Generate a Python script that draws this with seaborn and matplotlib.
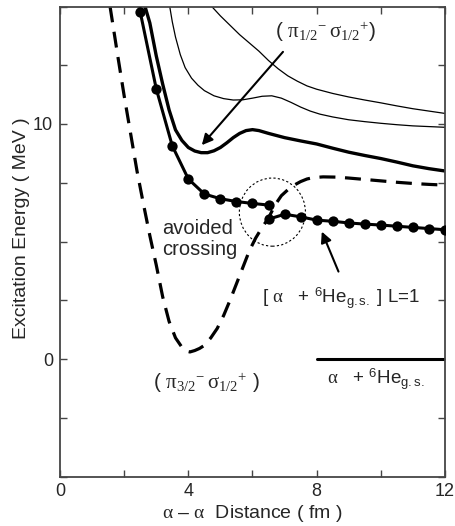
import numpy as np
import pandas as pd
import seaborn as sns
import matplotlib.pyplot as plt
from matplotlib.patches import Ellipse
from matplotlib.ticker import MultipleLocator

# ---------------- data ----------------
# dashed curve (pi_3/2^- sigma_1/2^+)
dash_x = [1.56, 1.8, 2.0, 2.2, 2.4, 2.6, 2.8, 3.0, 3.2, 3.4, 3.6, 3.8, 3.95, 4.05, 4.2,
          4.35, 4.5, 4.7, 4.9, 5.1, 5.3, 5.5, 5.7, 5.9, 6.1, 6.3, 6.5, 6.7, 6.9, 7.1,
          7.3, 7.5, 7.7, 7.9, 8.2, 8.6, 9.0, 9.5, 10.0, 10.5, 11.0, 11.5, 12.0]
dash_y = [15.0, 12.9, 11.2, 9.6, 8.0, 6.6, 5.25, 4.0, 2.65, 1.6, 0.9, 0.5, 0.33, 0.3, 0.36,
          0.45, 0.58, 0.9, 1.3, 1.85, 2.5, 3.2, 3.9, 4.6, 5.15, 5.6, 6.0, 6.55, 6.95, 7.2,
          7.4, 7.55, 7.66, 7.72, 7.75, 7.74, 7.7, 7.64, 7.58, 7.52, 7.47, 7.43, 7.4]

# thick solid curve (pi_1/2^- sigma_1/2^+)
thick_x = [2.65, 2.8, 3.0, 3.2, 3.4, 3.6, 3.8, 4.0, 4.2, 4.4, 4.6, 4.8, 5.0, 5.2, 5.4,
           5.6, 5.8, 6.0, 6.2, 6.5, 7.0, 7.5, 8.0, 8.5, 9.0, 9.5, 10.0, 10.5, 11.0, 11.5, 12.0]
thick_y = [15.0, 14.3, 12.9, 11.7, 10.6, 9.75, 9.3, 9.0, 8.85, 8.78, 8.78, 8.86, 9.0, 9.2, 9.42,
           9.6, 9.72, 9.76, 9.72, 9.6, 9.42, 9.28, 9.15, 8.97, 8.8, 8.66, 8.53, 8.38, 8.22, 8.1, 8.0]

# thin curve (lower)
thin1_x = [3.42, 3.5, 3.6, 3.75, 3.9, 4.1, 4.3, 4.5, 4.8, 5.1, 5.4, 5.7, 6.0, 6.3, 6.6,
           6.9, 7.2, 7.5, 7.8, 8.1, 8.5, 9.0, 9.5, 10.0, 10.5, 11.0, 11.5, 12.0]
thin1_y = [15.0, 14.35, 13.7, 12.95, 12.4, 11.95, 11.65, 11.42, 11.2, 11.08, 11.02, 11.03, 11.1, 11.18, 11.2,
           11.1, 10.92, 10.72, 10.55, 10.42, 10.3, 10.18, 10.1, 10.03, 9.97, 9.92, 9.89, 9.86]

# thin curve (upper)
thin2_x = [4.73, 5.0, 5.3, 5.6, 5.9, 6.2, 6.5, 6.8, 7.1, 7.4, 7.7, 8.0, 8.5, 9.0, 9.5,
           10.0, 10.5, 11.0, 11.5, 12.0]
thin2_y = [15.0, 14.6, 14.2, 13.8, 13.45, 13.1, 12.7, 12.35, 12.05, 11.82, 11.62, 11.48, 11.3, 11.15, 11.02,
           10.9, 10.77, 10.65, 10.55, 10.45]

# curve with dots, upper branch (line start above the frame, then dots)
dotA_x = [2.42, 2.5, 3.0, 3.5, 4.0, 4.5, 5.0, 5.5, 6.0, 6.5]
dotA_y = [15.3, 14.77, 11.5, 9.07, 7.66, 7.02, 6.82, 6.7, 6.62, 6.55]
# curve with dots, lower branch
dotB_x = [6.5, 7.0, 7.5, 8.0, 8.5, 9.0, 9.5, 10.0, 10.5, 11.0, 11.5, 12.0]
dotB_y = [5.95, 6.16, 6.05, 5.91, 5.86, 5.79, 5.74, 5.7, 5.65, 5.6, 5.55, 5.5]

# threshold alpha + 6He g.s.
thr_x = [8.0, 12.0]
thr_y = [0.0, 0.0]

x_ticks = [0, 4, 8, 12]
x_ticklabels = ["0", "4", "8", "12"]
y_ticks = [0, 10]
y_ticklabels = ["0", "10"]

# ---------------- style ----------------
sns.set_style("ticks")
plt.rcParams['font.family'] = ['Liberation Sans', 'DejaVu Sans']
plt.rcParams['mathtext.fontset'] = 'custom'
plt.rcParams['mathtext.rm'] = 'Liberation Serif'
plt.rcParams['mathtext.it'] = 'Liberation Serif:italic'
plt.rcParams['mathtext.sf'] = 'Liberation Sans'

fig = plt.figure(figsize=(4.56, 5.26), dpi=100)
ax = fig.add_axes([60 / 456, 1 - 476.5 / 526, 385 / 456, 470 / 526])

spine_c = '#454545'

sns.lineplot(x=dash_x, y=dash_y, ax=ax, color='k', lw=2.3, estimator=None, sort=False)
ax.lines[-1].set_dashes([5.0, 3.0])
sns.lineplot(x=thick_x, y=thick_y, ax=ax, color='k', lw=2.4, estimator=None, sort=False)
sns.lineplot(x=thin1_x, y=thin1_y, ax=ax, color='k', lw=0.9, estimator=None, sort=False)
sns.lineplot(x=thin2_x, y=thin2_y, ax=ax, color='k', lw=0.9, estimator=None, sort=False)
sns.lineplot(x=dotA_x, y=dotA_y, ax=ax, color='k', lw=2.2, estimator=None, sort=False)
sns.scatterplot(x=dotA_x[1:], y=dotA_y[1:], ax=ax, color='k', s=55, edgecolor='k', linewidth=0, zorder=5)
sns.lineplot(x=dotB_x, y=dotB_y, ax=ax, color='k', lw=2.2, estimator=None, sort=False)
sns.scatterplot(x=dotB_x, y=dotB_y, ax=ax, color='k', s=55, edgecolor='k', linewidth=0, zorder=5)
sns.lineplot(x=thr_x, y=thr_y, ax=ax, color='k', lw=2.2, estimator=None, sort=False)

ax.add_patch(Ellipse((6.62, 6.25), width=2.06, height=2.9, fill=False,
                     ec='k', lw=0.8, ls=(0, (2.0, 2.0))))

ax.set_xlim(0, 12)
ax.set_ylim(-5, 15)
ax.set_xticks(x_ticks)
ax.set_xticklabels(x_ticklabels)
ax.set_yticks(y_ticks)
ax.set_yticklabels(y_ticklabels)
ax.xaxis.set_minor_locator(MultipleLocator(2))
ax.yaxis.set_minor_locator(MultipleLocator(2.5))
ax.tick_params(which='both', direction='in', top=True, right=True, length=5,
               width=1.0, color=spine_c, labelsize=13, pad=5)
for s in ax.spines.values():
    s.set_color(spine_c)
    s.set_linewidth(1.3)

ax.set_xlabel(r"$\mathrm{\alpha}$ – $\mathrm{\alpha}$  Distance ( fm )", fontsize=14, labelpad=2)
ax.set_ylabel("Excitation Energy ( MeV )", fontsize=14)
ax.yaxis.set_label_coords(-0.078, 0.528)

# annotations
ax.text(8.29, 13.9, r"( $\mathrm{\pi}_{1/2}{}^{-}\,\mathrm{\sigma}_{1/2}{}^{+}$)",
        fontsize=15, ha='center', va='center')
ax.annotate("", xy=(4.42, 9.1), xytext=(6.95, 13.07),
            arrowprops=dict(arrowstyle='-|>', color='k', lw=1.5, mutation_scale=16,
                            shrinkA=0, shrinkB=0))
ax.text(3.18, 5.1, "avoided\ncrossing", fontsize=14.5, ha='left', va='center', linespacing=1.1)
ax.text(6.3, 2.6, r"[ $\mathrm{\alpha}$   + $^{\mathsf{6}}$He$_{\mathsf{g{.}s{.}}}$ ] L=1",
        fontsize=13.5, ha='left', va='center')
ax.annotate("", xy=(8.16, 5.42), xytext=(8.68, 3.72),
            arrowprops=dict(arrowstyle='-|>', color='k', lw=1.5, mutation_scale=16,
                            shrinkA=0, shrinkB=0))
ax.text(4.58, -1.02, r"( $\mathrm{\pi}_{3/2}{}^{-}\,\mathrm{\sigma}_{1/2}{}^{+}$ )",
        fontsize=15, ha='center', va='center')
ax.text(8.32, -0.85, r"$\mathrm{\alpha}$   + $^{\mathsf{6}}$He$_{\mathsf{g{.}s{.}}}$",
        fontsize=13.5, ha='left', va='center')

fig.savefig("out.png", dpi=100)
